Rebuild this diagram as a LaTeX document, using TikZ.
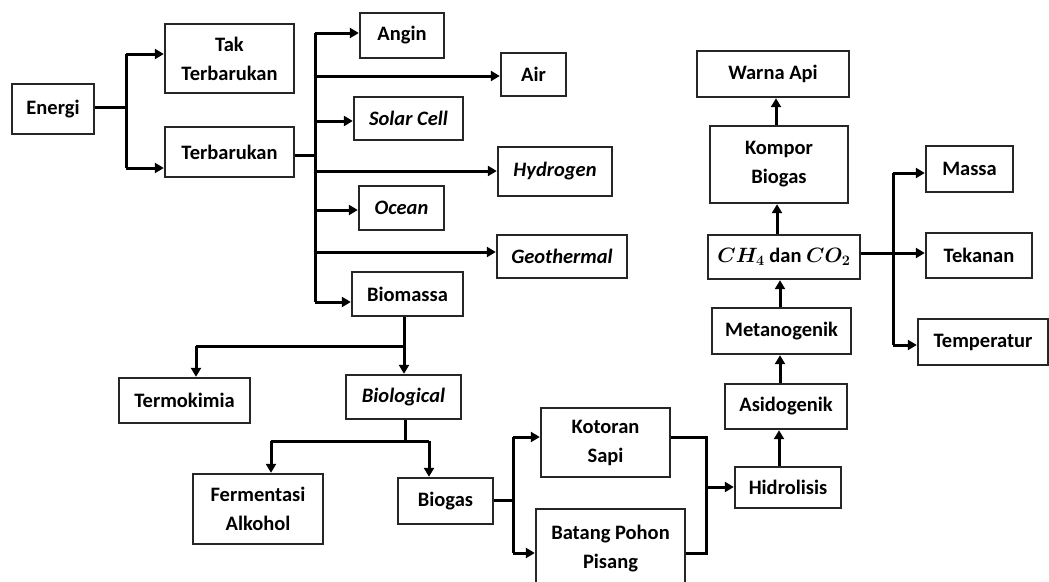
\documentclass[tikz,border=0pt]{standalone}
\usepackage{fontspec}
\setmainfont{Carlito}
\usetikzlibrary{arrows.meta}
\begin{document}
\begin{tikzpicture}[x=1pt,y=-1pt,
  box/.style={draw=black!85,line width=2.4pt,rectangle,inner sep=0pt,align=center,
    font=\fontsize{20.5}{29}\selectfont\bfseries},
  itbox/.style={box,font=\fontsize{20.5}{29}\selectfont\bfseries\itshape},
  mbox/.style={box,font=\fontsize{20.5}{29}\selectfont\bfseries\boldmath},
  ln/.style={line width=3pt,black},
  arr/.style={ln,-{Triangle[length=9pt,width=10pt]}}]
\useasboundingbox (0,0) rectangle (1049,581);
% nodes
\node[box,minimum width=82pt,minimum height=50pt] (energi) at (53,109) {Energi};
\node[box,minimum width=129pt,minimum height=69pt] (tak) at (229.5,58.5) {Tak\\Terbarukan};
\node[box,minimum width=129pt,minimum height=50pt] (terb) at (229.5,152) {Terbarukan};
\node[box,minimum width=84pt,minimum height=45pt] (angin) at (402,35.5) {Angin};
\node[box,minimum width=65pt,minimum height=43pt] (air) at (533.5,74.5) {Air};
\node[itbox,minimum width=109pt,minimum height=43pt] (solar) at (408.5,118.5) {Solar Cell};
\node[itbox,minimum width=114pt,minimum height=49pt] (hydrogen) at (555,171.5) {Hydrogen};
\node[itbox,minimum width=85pt,minimum height=44pt] (ocean) at (401.5,208) {Ocean};
\node[itbox,minimum width=130pt,minimum height=43pt] (geo) at (562,256.5) {Geothermal};
\node[box,minimum width=111pt,minimum height=44pt] (biomassa) at (407.5,294) {Biomassa};
\node[box,minimum width=131pt,minimum height=45pt] (termo) at (184.5,400.5) {Termokimia};
\node[itbox,minimum width=115pt,minimum height=44pt] (bio) at (403.5,397) {Biological};
\node[box,minimum width=130pt,minimum height=70pt] (ferm) at (258,509) {Fermentasi\\Alkohol};
\node[box,minimum width=95pt,minimum height=46pt] (biogas) at (445.5,501) {Biogas};
\node[box,minimum width=129pt,minimum height=69pt] (kotoran) at (605.5,442.5) {Kotoran\\Sapi};
\node[box,minimum width=149pt,minimum height=80pt] (batang) at (610.5,549) {Batang Pohon\\Pisang};
\node[box,minimum width=106pt,minimum height=41pt] (hidro) at (788,487.5) {Hidrolisis};
\node[box,minimum width=122pt,minimum height=45pt] (asido) at (786,406.5) {Asidogenik};
\node[box,minimum width=139pt,minimum height=46pt] (metan) at (781.5,331) {Metanogenik};
\node[mbox,minimum width=152pt,minimum height=44pt] (ch4) at (784,257) {$CH_4$ dan $CO_2$};
\node[box,minimum width=138pt,minimum height=77pt] (kompor) at (779,164.5) {Kompor\\Biogas};
\node[box,minimum width=152pt,minimum height=46pt] (warna) at (773,74) {Warna Api};
\node[box,minimum width=87pt,minimum height=46pt] (massa) at (969.5,169) {Massa};
\node[box,minimum width=106pt,minimum height=45pt] (tekanan) at (979,255.5) {Tekanan};
\node[box,minimum width=130pt,minimum height=46pt] (temp) at (983,342) {Temperatur};
% Energi branch
\coordinate (e0) at (126,107);
\coordinate (e1) at (126,54);
\coordinate (e2) at (126,168);
\draw[ln] (energi.east |- e0) -- (e0);
\draw[ln] (e1) -- (e2);
\draw[arr] (e1) -- (e1 -| tak.west);
\draw[arr] (e2) -- (e2 -| terb.west);
% Terbarukan trunk
\coordinate (t0) at (315,155);
\coordinate (t1) at (315,33);
\coordinate (t2) at (315,76);
\coordinate (t3) at (315,121);
\coordinate (t4) at (315,171);
\coordinate (t5) at (315,210);
\coordinate (t6) at (315,252);
\coordinate (t7) at (315,302);
\draw[ln] (terb.east |- t0) -- (t0);
\draw[ln] (t1) -- (t7);
\draw[arr] (t1) -- (t1 -| angin.west);
\draw[arr] (t2) -- (t2 -| air.west);
\draw[arr] (t3) -- (t3 -| solar.west);
\draw[arr] (t4) -- (t4 -| hydrogen.west);
\draw[arr] (t5) -- (t5 -| ocean.west);
\draw[arr] (t6) -- (t6 -| geo.west);
\draw[arr] (t7) -- (t7 -| biomassa.west);
% Biomassa
\coordinate (b1) at (404,346);
\coordinate (b2) at (196,346);
\draw[ln] (b1 |- biomassa.south) -- (b1);
\draw[ln] (b1) -- (b2);
\draw[arr] (b1) -- (b1 |- bio.north);
\draw[arr] (b2) -- (b2 |- termo.north);
% Biological
\coordinate (g0) at (405,441);
\coordinate (g1) at (271,441);
\coordinate (g2) at (429,441);
\draw[ln] (g0 |- bio.south) -- (g0);
\draw[ln] (g1) -- (g2);
\draw[arr] (g1) -- (g1 |- ferm.north);
\draw[arr] (g2) -- (g2 |- biogas.north);
% Biogas
\coordinate (k0) at (513,500);
\coordinate (k1) at (513,437);
\coordinate (k2) at (513,553);
\draw[ln] (biogas.east |- k0) -- (k0);
\draw[ln] (k1) -- (k2);
\draw[arr] (k1) -- (k1 -| kotoran.west);
\draw[arr] (k2) -- (k2 -| batang.west);
% to Hidrolisis
\coordinate (h1) at (706,437);
\coordinate (h2) at (706,553);
\coordinate (h0) at (706,487);
\draw[ln] (kotoran.east |- h1) -- (h1) -- (h2) -- (h2 -| batang.east);
\draw[arr] (h0) -- (h0 -| hidro.west);
% upward chain
\coordinate (u1) at (779,0);
\coordinate (u2) at (780,0);
\coordinate (u3) at (777,0);
\coordinate (u4) at (776,0);
\draw[arr] (u1 |- hidro.north) -- (u1 |- asido.south);
\draw[arr] (u2 |- asido.north) -- (u2 |- metan.south);
\draw[arr] (u2 |- metan.north) -- (u2 |- ch4.south);
\draw[arr] (u3 |- ch4.north) -- (u3 |- kompor.south);
\draw[arr] (u4 |- kompor.north) -- (u4 |- warna.south);
% CH4 branch
\coordinate (c0) at (893,253);
\coordinate (c1) at (893,173);
\coordinate (c3) at (893,345);
\draw[ln] (ch4.east |- c0) -- (c0);
\draw[ln] (c1) -- (c3);
\draw[arr] (c1) -- (c1 -| massa.west);
\draw[arr] (c0) -- (c0 -| tekanan.west);
\draw[arr] (c3) -- (c3 -| temp.west);
\end{tikzpicture}
\end{document}
